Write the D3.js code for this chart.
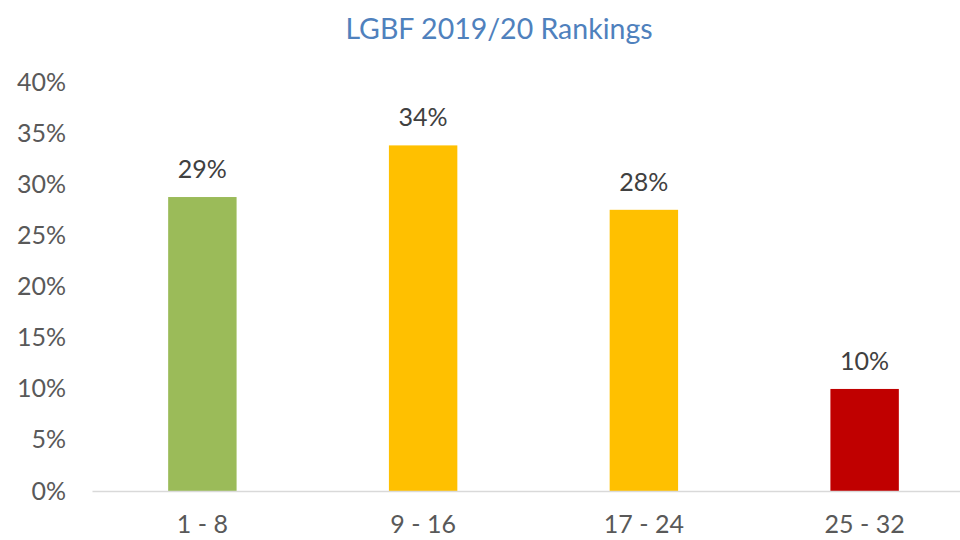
<!DOCTYPE html>
<html>
<head>
<meta charset="utf-8">
<script src="https://cdn.jsdelivr.net/npm/d3@7"></script>
<style>
    body { margin: 0; background: #fff; }
    svg { display: block; font-family: Lato, "Liberation Sans", sans-serif; }
</style>
</head>
<body>
<svg class="main" width="960" height="540"></svg>
<script>
var categories = ["1 - 8", "9 - 16", "17 - 24", "25 - 32"],
    values = [0.2875, 0.338, 0.275, 0.0998],
    barColors = ["#9BBB59", "#FFC000", "#FFC000", "#C00000"],
    yTicks = [0, 0.05, 0.1, 0.15, 0.2, 0.25, 0.3, 0.35, 0.4],
    title = "LGBF 2019/20 Rankings";

var main = d3.select(".main"),
    layout = {
        left: 92,
        right: 975,
        top: 82,
        bottom: 491
    };

var x = d3.scaleBand()
    .domain(categories)
    .range([layout.left, layout.right])
    .paddingInner(0.69)
    .paddingOuter(0.345);

var y = d3.scaleLinear()
    .domain([0, 0.4])
    .range([layout.bottom, layout.top]);

var pct = d3.format(".0%");

// title
main.append("text")
    .attr("x", 499)
    .attr("y", 39)
    .attr("text-anchor", "middle")
    .style("font-size", "28.5px")
    .style("fill", "#4F81BD")
    .text(title);

// y axis, labels only
var yAxis = main.append("g")
    .attr("transform", "translate(66,0)")
    .call(d3.axisLeft(y).tickValues(yTicks).tickFormat(pct).tickSize(0).tickPadding(0));

yAxis.select(".domain").remove();
yAxis.selectAll("text")
    .style("font-family", "Lato, 'Liberation Sans', sans-serif")
    .style("font-size", "25px")
    .style("fill", "#595959");

// bars
main.selectAll(".bar")
    .data(values)
    .enter()
    .append("rect")
    .attr("class", "bar")
    .attr("x", function(d, i) { return x(categories[i]); })
    .attr("width", x.bandwidth())
    .attr("y", function(d) { return y(d); })
    .attr("height", function(d) { return y(0) - y(d); })
    .attr("fill", function(d, i) { return barColors[i]; });

// data labels
main.selectAll(".label")
    .data(values)
    .enter()
    .append("text")
    .attr("class", "label")
    .attr("x", function(d, i) { return x(categories[i]) + x.bandwidth() / 2; })
    .attr("y", function(d) { return y(d) - 19; })
    .attr("text-anchor", "middle")
    .style("font-size", "25px")
    .style("fill", "#404040")
    .text(function(d) { return pct(d); });

// x axis
var xAxis = main.append("g")
    .attr("transform", "translate(0," + layout.bottom + ")")
    .call(d3.axisBottom(x).tickSize(0).tickPadding(24));

xAxis.select(".domain")
    .attr("stroke", "#D9D9D9")
    .attr("stroke-width", 1.5);
xAxis.selectAll("text")
    .style("font-family", "Lato, 'Liberation Sans', sans-serif")
    .style("font-size", "25px")
    .style("fill", "#595959");
</script>
</body>
</html>
